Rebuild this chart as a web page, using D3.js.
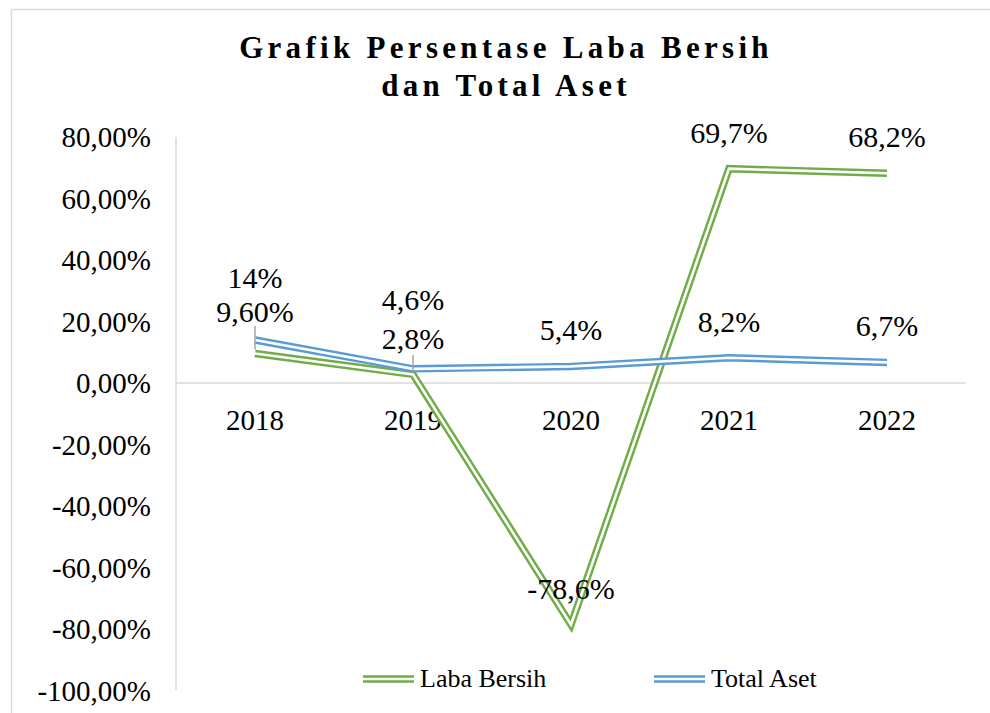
<!DOCTYPE html>
<html>
<head>
<meta charset="utf-8">
<script src="https://cdn.jsdelivr.net/npm/d3@7"></script>
<style>
  body { margin: 0; background: #fff; }
  svg { display: block; font-family: "Liberation Serif", "Times New Roman", serif; }
</style>
</head>
<body>
<div id="chart"></div>
<script>
// Data
const years = ["2018", "2019", "2020", "2021", "2022"];
const labaBersih = [9.6, 2.8, -78.6, 69.7, 68.2];
const totalAset = [14, 4.6, 5.4, 8.2, 6.7];
const labaLabels = ["9,60%", "2,8%", "-78,6%", "69,7%", "68,2%"];
const asetLabels = ["14%", "4,6%", "5,4%", "8,2%", "6,7%"];
const yTicks = [80, 60, 40, 20, 0, -20, -40, -60, -80, -100];

const W = 990, H = 713;
const plot = { left: 176, right: 966, top: 137, bottom: 690.5 };

const svg = d3.select("#chart").append("svg")
    .attr("width", W)
    .attr("height", H);

// chart border (only top and left show in the crop)
svg.append("path")
    .attr("d", `M11.5,${H + 5} L11.5,9.5 L${W + 5},9.5`)
    .attr("fill", "none")
    .attr("stroke", "#d9d9d9")
    .attr("stroke-width", 1.5);

// Title
const title = svg.append("text")
    .attr("text-anchor", "middle")
    .style("font-weight", "bold")
    .style("font-size", "31px")
    .style("letter-spacing", "4.3px");
title.append("tspan").attr("x", 506).attr("y", 58).text("Grafik Persentase Laba Bersih");
title.append("tspan").attr("x", 506).attr("y", 96).text("dan Total Aset");

const x = d3.scaleBand().domain(years).range([plot.left, plot.right]);
const y = d3.scaleLinear().domain([-100, 80]).range([plot.bottom, plot.top]);

const locale = d3.formatLocale({ decimal: ",", thousands: ".", grouping: [3], currency: ["", ""], minus: "-" });
const fmt = locale.format(".2f");

// y axis line + zero gridline
svg.append("line")
    .attr("x1", plot.left).attr("x2", plot.left)
    .attr("y1", y(80)).attr("y2", y(-100))
    .attr("stroke", "#d9d9d9").attr("stroke-width", 1.5);
svg.append("line")
    .attr("x1", plot.left).attr("x2", plot.right)
    .attr("y1", y(0)).attr("y2", y(0))
    .attr("stroke", "#d9d9d9").attr("stroke-width", 1.5);

// y tick labels
svg.selectAll(".ytick")
    .data(yTicks)
    .enter()
    .append("text")
    .attr("class", "ytick")
    .attr("x", 151)
    .attr("y", d => y(d) + 10)
    .attr("text-anchor", "end")
    .style("font-size", "29px")
    .text(d => fmt(d) + "%");

// x category labels (sit just under the zero line)
svg.selectAll(".xtick")
    .data(years)
    .enter()
    .append("text")
    .attr("class", "xtick")
    .attr("x", d => x(d) + x.bandwidth() / 2)
    .attr("y", 430)
    .attr("text-anchor", "middle")
    .style("font-size", "29px")
    .text(d => d);

const cx = (d, i) => x(years[i]) + x.bandwidth() / 2;
const line = d3.line().x(cx).y(d => y(d));

const series = [
    { name: "Laba Bersih", values: labaBersih, labels: labaLabels, color: "#70ad47" },
    { name: "Total Aset", values: totalAset, labels: asetLabels, color: "#5b9bd5" }
];

// compound (double) lines: wide coloured stroke with a thin white core
series.forEach(s => {
    svg.append("path")
        .datum(s.values)
        .attr("d", line)
        .attr("fill", "none")
        .attr("stroke", s.color)
        .attr("stroke-width", 7.5)
        .attr("stroke-linejoin", "miter");
    svg.append("path")
        .datum(s.values)
        .attr("d", line)
        .attr("fill", "none")
        .attr("stroke", "#fff")
        .attr("stroke-width", 2.6)
        .attr("stroke-linejoin", "miter");
});

// leader lines for the moved labels
const leaders = [[0, 326], [1, 355]];
leaders.forEach(([i, top]) => {
    svg.append("line")
        .attr("x1", cx(null, i)).attr("x2", cx(null, i))
        .attr("y1", top).attr("y2", y(labaBersih[i]) - 4)
        .attr("stroke", "#a6a6a6").attr("stroke-width", 1.5);
});

// data labels, default just above the point; a few were dragged in the original
const labelShift = { "Laba Bersih": [-31, -25, -26, -26, -26], "Total Aset": [-52, -59, -26, -26, -26] };
series.forEach(s => {
    svg.selectAll(null)
        .data(s.values)
        .enter()
        .append("text")
        .attr("x", cx)
        .attr("y", (d, i) => y(d) + labelShift[s.name][i])
        .attr("text-anchor", "middle")
        .style("font-size", "30px")
        .text((d, i) => s.labels[i]);
});

// legend
const legendX = [363, 654];
series.forEach((s, i) => {
    const g = svg.append("g").attr("transform", `translate(${legendX[i]},679)`);
    g.append("line").attr("x1", 0).attr("x2", 51).attr("y1", 0).attr("y2", 0)
        .attr("stroke", s.color).attr("stroke-width", 7.5);
    g.append("line").attr("x1", 0).attr("x2", 51).attr("y1", 0).attr("y2", 0)
        .attr("stroke", "#fff").attr("stroke-width", 2.6);
    g.append("text")
        .attr("x", 57).attr("y", 8)
        .style("font-size", "26px")
        .text(s.name);
});
</script>
</body>
</html>
